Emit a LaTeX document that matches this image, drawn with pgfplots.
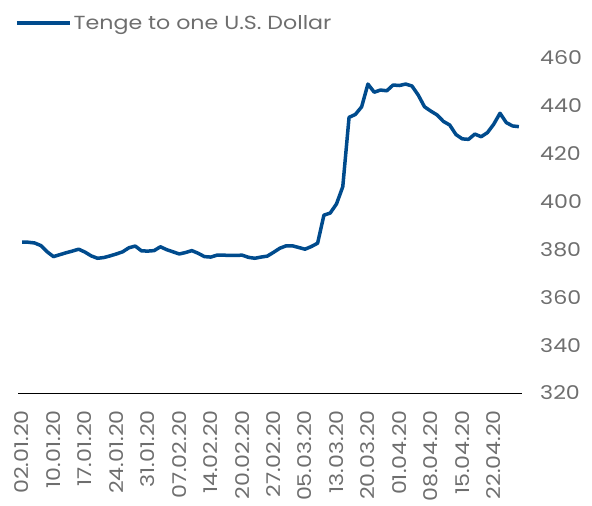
\documentclass[border=0pt]{standalone}
\usepackage{fontspec}
\setmainfont{Poppins}[FakeStretch=1.17]
\usepackage{pgfplots}
\pgfplotsset{compat=1.18}
\definecolor{lineblue}{HTML}{004B8D}
\definecolor{txtgray}{HTML}{6E6E6E}
\newcommand{\lblfont}{\fontsize{19}{19}\selectfont}
\begin{document}
\begin{tikzpicture}[x=1bp,y=1bp]
\useasboundingbox (0,0) rectangle (592,506);
\begin{axis}[
  at={(18bp,113bp)}, anchor=south west,
  scale only axis, width=504bp, height=335bp,
  xmin=-0.64, xmax=79.5, ymin=320, ymax=460,
  axis x line*=bottom, axis y line*=right,
  y axis line style={draw=none},
  x axis line style={black, line width=0.8bp},
  major tick length=0,
  xtick={0,5,...,75},
  xticklabels={02.01.20,10.01.20,17.01.20,24.01.20,31.01.20,07.02.20,14.02.20,20.02.20,27.02.20,05.03.20,13.03.20,20.03.20,01.04.20,08.04.20,15.04.20,22.04.20},
  ytick={320,340,...,460},
  /pgf/number format/assume math mode=true,
  yticklabel style={anchor=west, inner sep=0, xshift=18bp, font=\lblfont, text=txtgray},
  xticklabel style={yshift=-17bp, rotate=90, anchor=east, inner sep=0, font=\lblfont, text=txtgray},
  legend style={at={(-0.006,1.1045)}, anchor=west, draw=none, fill=none, inner sep=0, font=\lblfont, text=txtgray},
  legend image code/.code={\draw[#1] (0bp,0bp) -- (53bp,0bp);},
  legend cell align=left,
  clip=false,
]
\addplot[lineblue, line width=3.5bp, line join=round] coordinates {
(0,383.0) (1,383.0) (2,382.7) (3,381.6) (4,379.0) (5,377.0) (6,377.8) (7,378.6) (8,379.3) (9,380.1)
(10,378.9) (11,377.3) (12,376.3) (13,376.6) (14,377.3) (15,378.1) (16,379.0) (17,380.7) (18,381.4) (19,379.4)
(20,379.3) (21,379.5) (22,381.1) (23,379.9) (24,379.0) (25,378.1) (26,378.7) (27,379.5) (28,378.4) (29,377.0)
(30,376.8) (31,377.6) (32,377.6) (33,377.5) (34,377.5) (35,377.6) (36,376.7) (37,376.3) (38,376.8) (39,377.2)
(40,378.8) (41,380.5) (42,381.5) (43,381.5) (44,380.8) (45,380.1) (46,381.2) (47,382.6) (48,394.3) (49,395.2)
(50,399.0) (51,406.2) (52,435.2) (53,436.4) (54,439.6) (55,449.1) (56,445.7) (57,446.6) (58,446.3) (59,448.7)
(60,448.5) (61,449.1) (62,448.3) (63,444.5) (64,439.6) (65,437.8) (66,436.2) (67,433.5) (68,432.0) (69,428.0)
(70,426.2) (71,426.0) (72,428.2) (73,427.1) (74,428.8) (75,432.3) (76,436.9) (77,433.0) (78,431.6) (79,431.3)
};
\addlegendentry{Tenge to one U.S. Dollar}
\end{axis}
\end{tikzpicture}
\end{document}
